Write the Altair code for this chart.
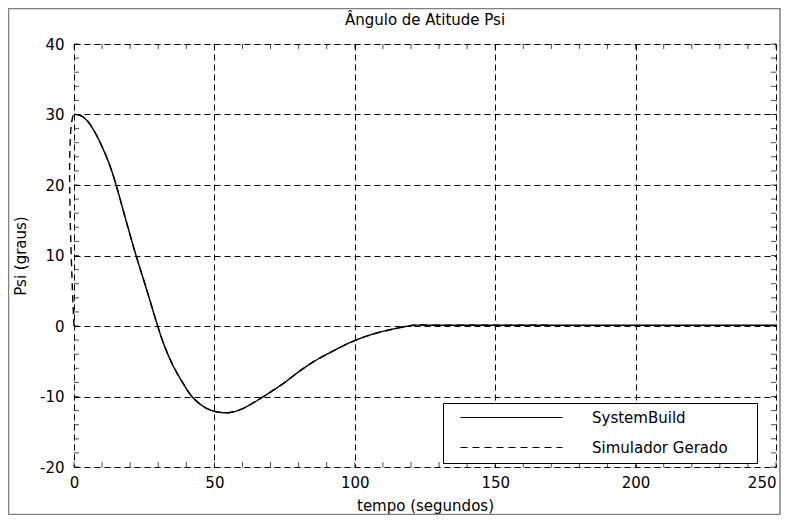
import altair as alt
import pandas as pd

# --- data ---
series_names = ["SystemBuild", "Simulador Gerado"]
chart_title = "Ângulo de Atitude Psi"

t_sb = [0, 2, 4.5, 7.7, 10.7, 13, 15, 18.5, 22.1, 26, 29.8, 32, 35, 38.5, 42, 46, 50, 55,
        59, 63, 67.5, 74, 80.7, 86, 92, 98.6, 106, 112.9, 117, 121, 130, 150, 170, 250]
psi_sb = [30, 29.9, 29.2, 27.3, 24.8, 22.5, 20, 15, 10, 5, 0, -2.6, -5.4, -7.9, -10, -11.4, -12.1, -12.3,
          -11.9, -11.1, -10, -8.3, -6.3, -4.9, -3.6, -2.3, -1.2, -0.5, -0.15, 0.1, 0.1, 0.1, 0.1, 0.1]

t_sim = [0, 0, 2, 4.5, 7.7, 10.7, 13, 15, 18.5, 22.1, 26, 29.8, 32, 35, 38.5, 42, 46, 50, 55,
         59, 63, 67.5, 74, 80.7, 86, 92, 98.6, 106, 112.9, 117, 121, 130, 150, 170]
psi_sim = [0, 30, 29.9, 29.2, 27.3, 24.8, 22.5, 20, 15, 10, 5, 0, -2.6, -5.4, -7.9, -10, -11.4, -12.1, -12.3,
           -11.9, -11.1, -10, -8.3, -6.3, -4.9, -3.6, -2.3, -1.2, -0.5, -0.15, 0.1, 0.1, 0.1, 0.1]

x_ticks = [0, 50, 100, 150, 200, 250]
y_ticks = [-20, -10, 0, 10, 20, 30, 40]
x_minor = list(range(0, 251, 10))
y_minor = list(range(-20, 41, 2))

rows = []
for i, (t, p) in enumerate(zip(t_sb, psi_sb)):
    rows.append({"serie": series_names[0], "t": t, "psi": p, "ordem": i})
for i, (t, p) in enumerate(zip(t_sim, psi_sim)):
    rows.append({"serie": series_names[1], "t": t, "psi": p, "ordem": i})
df = pd.DataFrame(rows)

FONT = "DejaVu Sans"
FS = 15
x_scale = alt.Scale(domain=[0, 250], nice=False, zero=False)
y_scale = alt.Scale(domain=[-20, 40], nice=False, zero=False)

common_axis = dict(grid=True, gridDash=[6, 4], gridColor="black", gridWidth=1, gridOpacity=1,
                   domain=False, ticks=False, labelFontSize=FS, titleFontSize=FS,
                   labelFont=FONT, titleFont=FONT, titleFontWeight="normal",
                   labelColor="black", titleColor="black", labelFlush=False,
                   labelExpr="datum.value")


def X():
    return alt.X("t:Q", scale=x_scale,
                 axis=alt.Axis(title="tempo (segundos)", values=x_ticks, labelPadding=8,
                               titlePadding=8,
                               labelAlign={"condition": {"test": "datum.value == 250", "value": "right"},
                                           "value": "center"},
                               **common_axis))


def Y():
    return alt.Y("psi:Q", scale=y_scale,
                 axis=alt.Axis(title="Psi (graus)", values=y_ticks, labelPadding=10,
                               titlePadding=11, **common_axis))


PAD = "\u2800\u2800"
lines = alt.Chart(df).mark_line(color="black", strokeWidth=1.4, interpolate="catmull-rom").encode(
    x=X(), y=Y(),
    strokeDash=alt.StrokeDash("serie:N",
                              scale=alt.Scale(domain=series_names, range=[[1, 0], [7, 5]]),
                              legend=alt.Legend(title=None, orient="none", legendX=369, legendY=359,
                                                fillColor="white", strokeColor="black",
                                                padding=7, symbolType="M0.6,0H21", symbolSize=100,
                                                symbolStrokeColor="black", symbolStrokeWidth=1.2,
                                                symbolFillColor="transparent",
                                                labelFont=FONT, labelFontSize=FS, labelColor="black",
                                                labelOffset=127, rowPadding=14, labelLimit=400,
                                                labelExpr=f"datum.label + '{PAD}'")),
    order="ordem:Q",
)

left_df = pd.DataFrame({"psi": y_minor, "t": [0] * len(y_minor)})
right_df = pd.DataFrame({"psi": y_minor, "t": [250] * len(y_minor)})
bottom_df = pd.DataFrame({"t": x_minor, "psi": [-20] * len(x_minor)})
top_df = pd.DataFrame({"t": x_minor, "psi": [40] * len(x_minor)})

tick_left = alt.Chart(left_df).mark_tick(orient="horizontal", size=5, thickness=1, color="black",
                                         xOffset=2.5).encode(x=X(), y=Y())
tick_right = alt.Chart(right_df).mark_tick(orient="horizontal", size=5, thickness=1, color="black",
                                           xOffset=-2.5).encode(x=X(), y=Y())
tick_bottom = alt.Chart(bottom_df).mark_tick(orient="vertical", size=5, thickness=1, color="black",
                                             yOffset=-2.5).encode(x=X(), y=Y())
tick_top = alt.Chart(top_df).mark_tick(orient="vertical", size=5, thickness=1, color="black",
                                       yOffset=2.5).encode(x=X(), y=Y())

frame = alt.Chart(pd.DataFrame({"a": [0]})).mark_rect(
    fill=None, stroke="#808080", strokeWidth=1.5, clip=False).encode(
    x=alt.value(-65.5), x2=alt.value(706), y=alt.value(-35.5), y2=alt.value(470.5))

title = alt.Chart(pd.DataFrame({"txt": [chart_title]})).mark_text(
    font=FONT, fontSize=FS, color="black", align="center", baseline="middle").encode(
    text="txt:N", x=alt.value(351), y=alt.value(-24))

chart = alt.layer(lines, tick_left, tick_right, tick_bottom, tick_top, frame, title).properties(
    width=702, height=423,
    autosize="none",
    padding={"left": 66, "top": 36, "right": 5, "bottom": 48},
).configure_view(stroke="black", strokeWidth=1.2).configure(background="white")

chart.save("out.html", embed_options={"renderer": "svg", "actions": False})
